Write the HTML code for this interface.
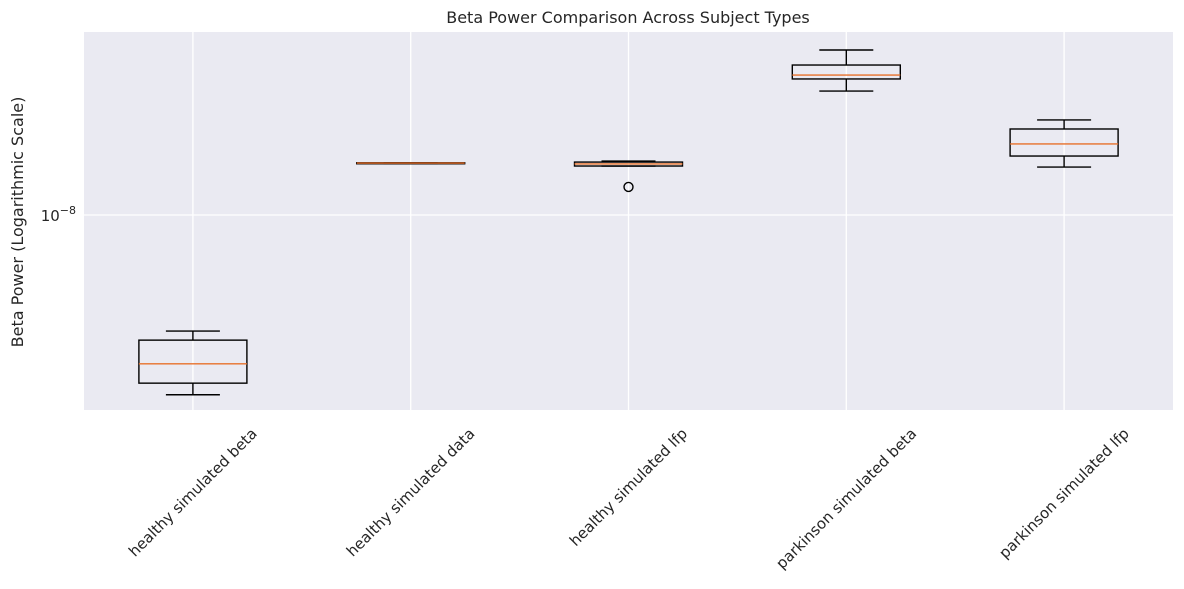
<!DOCTYPE html>
<html><head><meta charset="utf-8"><style>
body{margin:0;background:#fff;}
svg text{font-family:"DejaVu Sans","Liberation Sans",sans-serif;fill:#262626;}
</style></head><body>
<svg id="chart" width="1184" height="584">
<rect x="0" y="0" width="1184" height="584" fill="#fff"/>
<rect x="84" y="32" width="1089" height="378" fill="#eaeaf2"/>
<g id="grid"></g>
<g id="marks"></g>
<g id="axes"></g>
<text x="628" y="23" text-anchor="middle" font-size="16">Beta Power Comparison Across Subject Types</text>
<text transform="translate(23,222) rotate(-90)" text-anchor="middle" font-size="16">Beta Power (Logarithmic Scale)</text>
</svg>
<script>
const categories=["healthy simulated beta","healthy simulated data","healthy simulated lfp","parkinson simulated beta","parkinson simulated lfp"];
const whiskerLow=[4.37e-9,1.268e-8,1.253e-8,1.770e-8,1.247e-8];
const q1=[4.61e-9,1.268e-8,1.253e-8,1.871e-8,1.312e-8];
const medians=[5.04e-9,1.27e-8,1.265e-8,1.905e-8,1.387e-8];
const q3=[5.62e-9,1.272e-8,1.276e-8,1.995e-8,1.486e-8];
const whiskerHigh=[5.86e-9,1.272e-8,1.282e-8,2.138e-8,1.549e-8];
const outliers=[[],[],[1.138e-8],[],[]];
const yTicks=[1e-8];
const NS="http://www.w3.org/2000/svg";
const x0=84,x1=1173,yTop=32,yBot=410;
const logMin=-8.39,logMax=-7.634;
function y(v){return yBot-(Math.log10(v)-logMin)/(logMax-logMin)*(yBot-yTop);}
function x(i){return x0+(i+0.5)*(x1-x0)/categories.length;}
function el(t,a,p){const e=document.createElementNS(NS,t);for(const k in a)e.setAttribute(k,a[k]);p.appendChild(e);return e;}
const grid=document.getElementById('grid'),marks=document.getElementById('marks'),axes=document.getElementById('axes');
yTicks.forEach(v=>{
 const g=el('line',{x1:x0,x2:x1,y1:y(v),y2:y(v),stroke:'#fff','stroke-width':1.3},grid);
 
 
 const t=el('text',{x:76,y:y(v)+6,'text-anchor':'end','font-size':15},axes);
 
 
 const exp=Math.round(Math.log10(v));
 t.textContent='10';
 const s=el('tspan',{dy:-7,'font-size':11},t);s.textContent='\u2212'+Math.abs(exp);
});
const bw=108;
categories.forEach((c,i)=>{
 const cx=x(i);
 const gl=el('line',{x1:cx,x2:cx,y1:yTop,y2:yBot,stroke:'#fff','stroke-width':1.3},grid);
 
 
 const g=el('g',{},marks);
 
 
 const sw=1.4;
 el('line',{x1:cx,x2:cx,y1:y(q3[i]),y2:y(whiskerHigh[i]),stroke:'#000','stroke-width':sw},g);
 el('line',{x1:cx,x2:cx,y1:y(q1[i]),y2:y(whiskerLow[i]),stroke:'#000','stroke-width':sw},g);
 el('line',{x1:cx-27,x2:cx+27,y1:y(whiskerHigh[i]),y2:y(whiskerHigh[i]),stroke:'#000','stroke-width':sw},g);
 el('line',{x1:cx-27,x2:cx+27,y1:y(whiskerLow[i]),y2:y(whiskerLow[i]),stroke:'#000','stroke-width':sw},g);
 const top=y(q3[i]),bot=y(q1[i]);
 el('rect',{x:cx-bw/2,y:top,width:bw,height:Math.max(bot-top,1),fill:'none',stroke:'#000','stroke-width':sw},g);
 el('line',{x1:cx-bw/2,x2:cx+bw/2,y1:y(medians[i]),y2:y(medians[i]),stroke:'#e8702a','stroke-width':1.4},g);
 outliers[i].forEach(o=>{
  const c2=el('circle',{cx:cx,cy:y(o),r:4.5,fill:'none',stroke:'#000','stroke-width':1.4},g);
  
  
 });
 const t=el('text',{'text-anchor':'middle','font-size':15},axes);
 
 
 t.textContent=c;
 const w=t.getComputedTextLength();
 const cy=yBot+15+(w*0.7071)/2+6;
 t.setAttribute('transform',`translate(${cx},${cy}) rotate(-45)`);
 t.setAttribute('dy','5');
});
</script>
</body></html>
